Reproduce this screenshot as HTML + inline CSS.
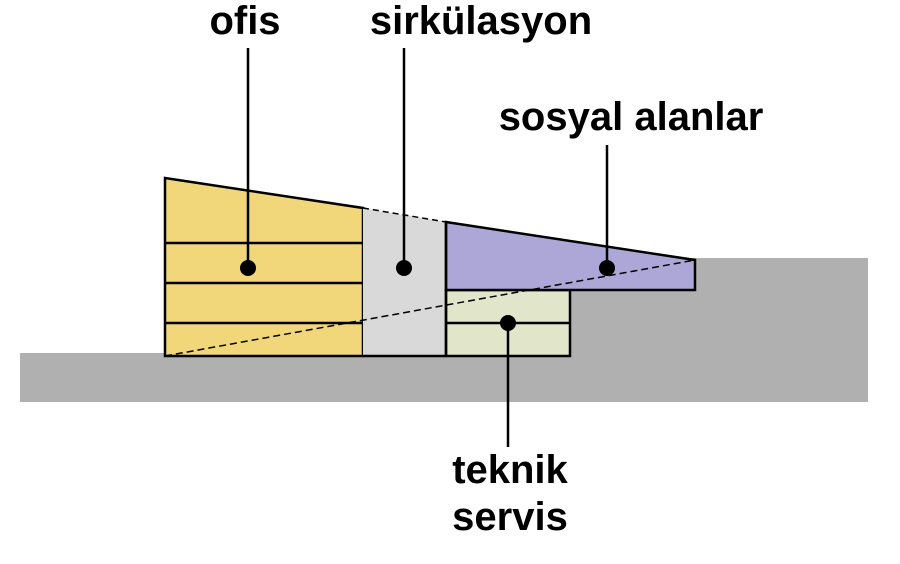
<!DOCTYPE html>
<html><head><meta charset="utf-8"><style>html,body{margin:0;padding:0;background:#fff}svg{display:block}</style></head>
<body>
<svg width="900" height="564" viewBox="0 0 900 564" xmlns="http://www.w3.org/2000/svg">
<rect x="0" y="0" width="900" height="564" fill="#fff"/>
<!-- ground -->
<path d="M20 353 H570 V258 H868 V402 H20 Z" fill="#b0b0b0"/>
<!-- ofis -->
<polygon points="165,178 363,208 363,356 165,356" fill="#f1d77a" stroke="#000" stroke-width="2.5"/>
<g stroke="#000" stroke-width="2.5">
<line x1="165" y1="243" x2="363" y2="243"/>
<line x1="165" y1="283" x2="363" y2="283"/>
<line x1="165" y1="323" x2="363" y2="323"/>
</g>
<!-- sirkulasyon -->
<polygon points="363,208 446,222 446,356 363,356" fill="#d9d9d9"/>
<line x1="363" y1="356" x2="446" y2="356" stroke="#000" stroke-width="2.5"/>
<line x1="363" y1="208" x2="446" y2="222" stroke="#000" stroke-width="1.5" stroke-dasharray="6,4"/>
<!-- teknik -->
<rect x="446" y="290" width="124" height="66" fill="#e1e6cb" stroke="#000" stroke-width="2.5"/>
<line x1="446" y1="323" x2="570" y2="323" stroke="#000" stroke-width="2.5"/>
<!-- sosyal -->
<polygon points="446,222 695,260 695,290 446,290" fill="#aca7d6" stroke="#000" stroke-width="2.5"/>
<line x1="446" y1="222" x2="446" y2="356" stroke="#000" stroke-width="2.5"/>
<!-- dashed diagonal -->
<line x1="165" y1="356" x2="695" y2="260" stroke="#000" stroke-width="1.5" stroke-dasharray="7,4"/>
<!-- leaders -->
<g stroke="#000" stroke-width="2.5">
<line x1="248" y1="48" x2="248" y2="268"/>
<line x1="404" y1="48" x2="404" y2="268"/>
<line x1="607" y1="145" x2="607" y2="268"/>
<line x1="508" y1="323" x2="508" y2="447"/>
</g>
<g fill="#000">
<circle cx="248" cy="268" r="8"/>
<circle cx="404" cy="268" r="8"/>
<circle cx="607" cy="268" r="8"/>
<circle cx="508" cy="323" r="8"/>
</g>
<g font-family="Liberation Sans, Arial, sans-serif" font-weight="bold" font-size="40" fill="#000" text-anchor="middle">
<text x="245" y="34">ofis</text>
<text x="481" y="34">sirkülasyon</text>
<text x="631" y="130">sosyal alanlar</text>
<text x="510" y="483">teknik</text>
<text x="510" y="530">servis</text>
</g>
</svg>
</body></html>
